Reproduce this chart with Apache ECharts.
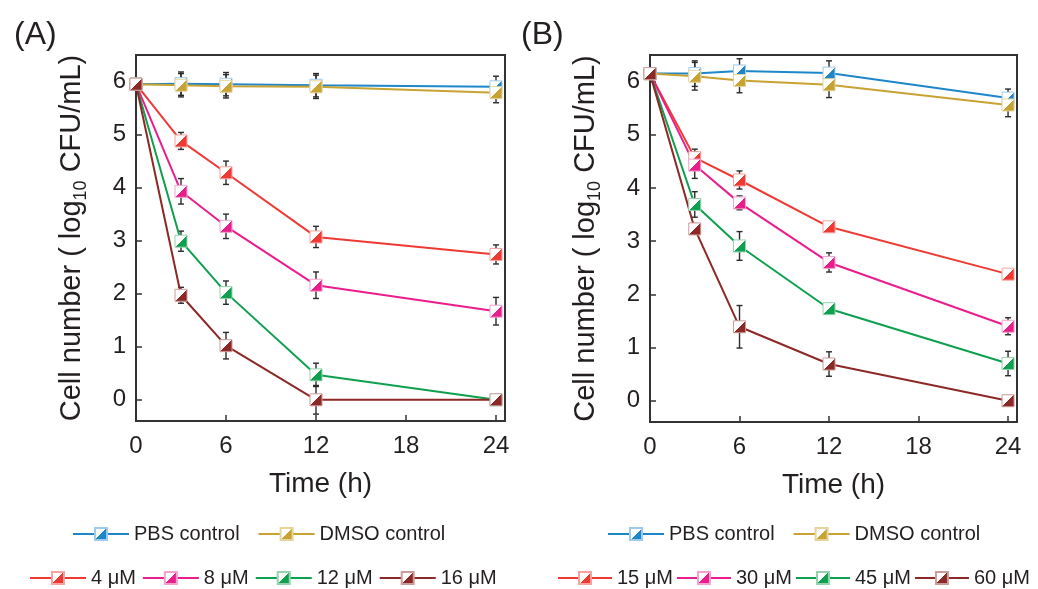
<!DOCTYPE html>
<html>
<head>
<meta charset="utf-8">
<script src="https://cdn.jsdelivr.net/npm/echarts@6/dist/echarts.min.js"></script>
<style>
  html, body { margin: 0; padding: 0; background: #ffffff; }
  #chart { width: 1038px; height: 589px; }
</style>
</head>
<body>
<div id="chart"></div>
<script>
// Sampling times (h) and axis ticks
const hours = [0, 3, 6, 12, 24];
const xTicks = [0, 6, 12, 18, 24];
const yTicks = [0, 1, 2, 3, 4, 5, 6];

// Panel (A): mean log10 CFU/mL and standard deviation
const aNames = ['PBS control', 'DMSO control', '4 μM', '8 μM', '12 μM', '16 μM'];
const aPBS   = [5.95, 5.96, 5.95, 5.93, 5.90];
const aDMSO  = [5.95, 5.93, 5.91, 5.90, 5.79];
const a4     = [5.95, 4.88, 4.28, 3.07, 2.74];
const a8     = [5.95, 3.93, 3.27, 2.16, 1.67];
const a12    = [5.95, 2.99, 2.02, 0.47, 0.00];
const a16    = [5.95, 1.97, 1.02, 0.00, 0.00];
const aPBSErr  = [0.05, 0.22, 0.22, 0.22, 0.20];
const aDMSOErr = [0.05, 0.22, 0.22, 0.22, 0.19];
const a4Err    = [0.05, 0.16, 0.22, 0.20, 0.18];
const a8Err    = [0.05, 0.24, 0.23, 0.25, 0.26];
const a12Err   = [0.05, 0.19, 0.22, 0.22, 0.08];
const a16Err   = [0.05, 0.15, 0.25, 0.27, 0.08];

// Panel (B)
const bNames = ['PBS control', 'DMSO control', '15 μM', '30 μM', '45 μM', '60 μM'];
const bPBS   = [6.15, 6.15, 6.20, 6.16, 5.69];
const bDMSO  = [6.15, 6.10, 6.02, 5.94, 5.56];
const b15    = [6.15, 4.57, 4.15, 3.27, 2.38];
const b30    = [6.15, 4.43, 3.72, 2.60, 1.40];
const b45    = [6.15, 3.69, 2.91, 1.73, 0.70];
const b60    = [6.15, 3.23, 1.39, 0.69, 0.00];
const bPBSErr  = [0.05, 0.24, 0.23, 0.23, 0.17];
const bDMSOErr = [0.05, 0.26, 0.23, 0.24, 0.22];
const b15Err   = [0.05, 0.16, 0.17, 0.08, 0.07];
const b30Err   = [0.05, 0.25, 0.13, 0.18, 0.16];
const b45Err   = [0.05, 0.24, 0.27, 0.05, 0.23];
const b60Err   = [0.05, 0.10, 0.40, 0.23, 0.08];

// Series colours: [line / fill, light border]
const palette = [
  ['#1d87c9', '#9fcbea'],
  ['#c8a232', '#e5d49c'],
  ['#ee3a33', '#f4a3a0'],
  ['#ea1d8c', '#f3a2cf'],
  ['#0ea04f', '#94d3ad'],
  ['#8c2825', '#cc9c9a']
];

const FONT = '"Liberation Sans", Arial, Helvetica, sans-serif';
const TEXT = '#231f20';
const AXIS = '#333333';

// Square marker: upper-left white, lower-right coloured
function halfFill(c) {
  return {
    type: 'linear', x: 0, y: 0, x2: 1, y2: 1,
    colorStops: [
      { offset: 0, color: '#ffffff' },
      { offset: 0.5, color: '#ffffff' },
      { offset: 0.5, color: c },
      { offset: 1, color: c }
    ]
  };
}

function lineSeries(name, values, idx, gi) {
  const [c, light] = palette[idx];
  return {
    name: name,
    type: 'line',
    xAxisIndex: gi,
    yAxisIndex: gi,
    data: hours.map((h, i) => [h, values[i]]),
    symbol: 'rect',
    symbolSize: 12,
    showAllSymbol: true,
    lineStyle: { color: c, width: 2 },
    itemStyle: { color: halfFill(c), borderColor: light, borderWidth: 1 },
    emphasis: { disabled: true },
    z: 3
  };
}

function errorSeries(values, errs, gi) {
  return {
    type: 'custom',
    xAxisIndex: gi,
    yAxisIndex: gi,
    data: hours.map((h, i) => [h, values[i], errs[i]]),
    renderItem: function (params, api) {
      const x = api.value(0), m = api.value(1), e = api.value(2);
      const hi = api.coord([x, m + e]);
      const lo = api.coord([x, m - e]);
      const w = 3;
      const st = { stroke: '#2b2b2b', lineWidth: 1.4 };
      return {
        type: 'group',
        children: [
          { type: 'line', shape: { x1: hi[0], y1: hi[1], x2: lo[0], y2: lo[1] }, style: st },
          { type: 'line', shape: { x1: hi[0] - w, y1: hi[1], x2: hi[0] + w, y2: hi[1] }, style: st },
          { type: 'line', shape: { x1: lo[0] - w, y1: lo[1], x2: lo[0] + w, y2: lo[1] }, style: st }
        ]
      };
    },
    silent: true,
    z: 2
  };
}

function xAxis(gi) {
  return {
    type: 'value', gridIndex: gi, min: 0, max: 24.6,
    name: 'Time (h)', nameLocation: 'middle', nameGap: 49,
    nameTextStyle: { fontSize: 28, color: TEXT, fontFamily: FONT },
    axisLine: { show: true, onZero: false, lineStyle: { color: AXIS, width: 2 } },
    axisTick: { show: true, inside: true, length: 6, customValues: xTicks, lineStyle: { color: AXIS, width: 1.5 } },
    axisLabel: { customValues: xTicks, fontSize: 24, color: TEXT, fontFamily: FONT, margin: 13 },
    splitLine: { show: false }
  };
}

function yAxis(gi) {
  return {
    type: 'value', gridIndex: gi, min: -0.4, max: 6.5,
    name: '{t|Cell number ( log}{s|10}{t| CFU/mL)}',
    nameLocation: 'middle', nameGap: 46, nameRotate: 90,
    nameTextStyle: {
      color: TEXT, fontFamily: FONT,
      rich: {
        t: { fontSize: 29, color: TEXT, fontFamily: FONT, lineHeight: 36, verticalAlign: 'middle' },
        s: { fontSize: 18, color: TEXT, fontFamily: FONT, lineHeight: 14, verticalAlign: 'bottom' }
      }
    },
    axisLine: { show: true, onZero: false, lineStyle: { color: AXIS, width: 2 } },
    axisTick: { show: true, inside: true, length: 6, customValues: yTicks, lineStyle: { color: AXIS, width: 1.5 } },
    axisLabel: { customValues: yTicks, fontSize: 24, color: TEXT, fontFamily: FONT, margin: 10 },
    splitLine: { show: false }
  };
}

function legend(names, left, top, gap, width) {
  return {
    data: names, left: left, top: top, orient: 'horizontal',
    width: 520, padding: 0,
    itemWidth: width, itemHeight: 15, itemGap: gap,
    selectedMode: false,
    textStyle: { fontSize: 20, color: TEXT, fontFamily: FONT }
  };
}

const panels = [
  { names: aNames, vals: [aPBS, aDMSO, a4, a8, a12, a16], errs: [aPBSErr, aDMSOErr, a4Err, a8Err, a12Err, a16Err] },
  { names: bNames, vals: [bPBS, bDMSO, b15, b30, b45, b60], errs: [bPBSErr, bDMSOErr, b15Err, b30Err, b45Err, b60Err] }
];

const series = [];
panels.forEach((p, gi) => {
  p.vals.forEach((v, i) => series.push(errorSeries(v, p.errs[i], gi)));
  p.vals.forEach((v, i) => series.push(lineSeries(p.names[i], v, i, gi)));
});

const chart = echarts.init(document.getElementById('chart'), null, { renderer: 'canvas' });
chart.setOption({
  animation: false,
  backgroundColor: '#ffffff',
  textStyle: { fontFamily: FONT },
  title: [
    { text: '(A)', left: 9, top: 14, textStyle: { fontSize: 32, fontWeight: 'normal', color: TEXT, fontFamily: FONT } },
    { text: '(B)', left: 516, top: 14, textStyle: { fontSize: 32, fontWeight: 'normal', color: TEXT, fontFamily: FONT } }
  ],
  grid: [
    { left: 136, top: 55, width: 369, height: 366, show: true, borderColor: AXIS, borderWidth: 2, backgroundColor: 'transparent' },
    { left: 650, top: 55, width: 367, height: 367, show: true, borderColor: AXIS, borderWidth: 2, backgroundColor: 'transparent' }
  ],
  xAxis: [xAxis(0), xAxis(1)],
  yAxis: [yAxis(0), yAxis(1)],
  legend: [
    legend(aNames.slice(0, 2), 72, 524, 18, 56),
    legend(aNames.slice(2), 29, 568, 6, 56),
    legend(bNames.slice(0, 2), 607, 524, 18, 56),
    legend(bNames.slice(2), 557, 568, 3, 54)
  ],
  series: series
});
</script>
</body>
</html>
